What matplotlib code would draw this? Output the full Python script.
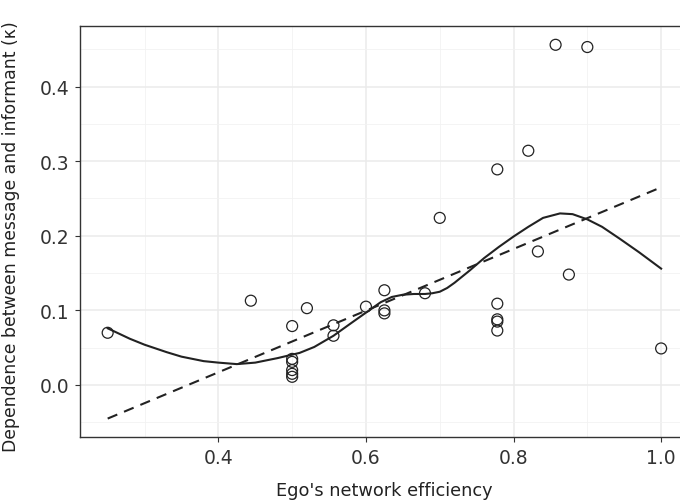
import matplotlib
matplotlib.use("Agg")
import matplotlib.pyplot as plt
from matplotlib.ticker import MultipleLocator

# ---- data ----
efficiency = [0.25, 0.444, 0.50, 0.50, 0.50, 0.50, 0.50, 0.50, 0.52, 0.556, 0.556,
              0.60, 0.625, 0.625, 0.625, 0.68, 0.70, 0.778, 0.778, 0.778, 0.778,
              0.778, 0.82, 0.833, 0.857, 0.875, 0.90, 1.00]
dependence = [0.070, 0.113, 0.079, 0.035, 0.031, 0.020, 0.015, 0.011, 0.103, 0.080, 0.066,
              0.105, 0.127, 0.100, 0.096, 0.123, 0.224, 0.289, 0.109, 0.088, 0.085,
              0.073, 0.314, 0.179, 0.456, 0.148, 0.453, 0.049]

# linear fit (dashed) end points
lin_x = [0.25, 1.00]
lin_y = [-0.045, 0.265]

# smoother (solid) sampled along the curve
smooth_x = [0.25, 0.28, 0.30, 0.33, 0.35, 0.38, 0.40, 0.425, 0.45, 0.48, 0.51, 0.53, 0.556,
            0.58, 0.60, 0.62, 0.635, 0.65, 0.665, 0.68, 0.69, 0.70, 0.71, 0.72, 0.74, 0.76,
            0.78, 0.80, 0.82, 0.84, 0.863, 0.88, 0.90, 0.92, 0.944, 0.97, 1.00]
smooth_y = [0.076, 0.062, 0.054, 0.044, 0.038, 0.032, 0.030, 0.028, 0.030, 0.036, 0.043,
            0.051, 0.066, 0.083, 0.097, 0.111, 0.118, 0.121, 0.122, 0.122, 0.123, 0.125,
            0.130, 0.137, 0.153, 0.170, 0.185, 0.199, 0.212, 0.224, 0.230, 0.229, 0.222,
            0.212, 0.196, 0.178, 0.156]

x_ticks = [0.4, 0.6, 0.8, 1.0]
y_ticks = [0.0, 0.1, 0.2, 0.3, 0.4]
x_label = "Ego's network efficiency"
y_label = "Dependence between message and informant (\u03ba)"

plt.rcParams['font.family'] = ['DejaVu Sans']

fig = plt.figure(figsize=(6.8, 5.02), dpi=100)
ax = fig.add_axes([80 / 680, 64 / 502, 608.8 / 680, 411.3 / 502])

ax.set_xlim(0.2125, 1.0375)
ax.set_ylim(-0.0697, 0.4816)

ax.xaxis.set_minor_locator(MultipleLocator(0.1))
ax.yaxis.set_minor_locator(MultipleLocator(0.05))
ax.set_xticks(x_ticks)
ax.set_yticks(y_ticks)
ax.set_xticklabels([f"{v:.1f}" for v in x_ticks])
ax.set_yticklabels([f"{v:.1f}" for v in y_ticks])

ax.grid(which='major', color='#EBEBEB', linewidth=1.1)
ax.grid(which='minor', color='#F2F2F2', linewidth=0.6)
ax.set_axisbelow(True)

ax.tick_params(which='major', direction='out', length=3.7, width=0.8, color='#333333',
               labelsize=13.5, labelcolor='#333333', pad=4)
ax.tick_params(which='minor', length=0)

for s in ax.spines.values():
    s.set_color('#333333')
    s.set_linewidth(1.0)

ax.plot(lin_x, lin_y, color='#222222', linewidth=1.5, linestyle=(0, (5, 3.5)))
ax.plot(smooth_x, smooth_y, color='#222222', linewidth=1.5)
ax.scatter(efficiency, dependence, s=62, facecolors='none', edgecolors='#222222',
           linewidths=0.9, zorder=3)

ax.set_xlabel(x_label, fontsize=12.8, color='#222222')
ax.set_ylabel(y_label, fontsize=12.45, color='#222222')
ax.xaxis.set_label_coords(0.5, -0.108)
ax.yaxis.set_label_coords(-0.099, 0.49)

fig.savefig("out.png", dpi=100)
